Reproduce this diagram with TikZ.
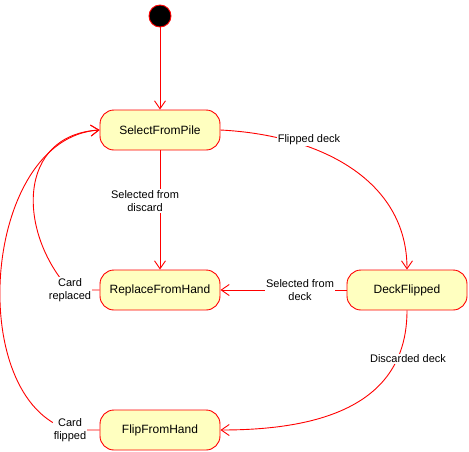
\documentclass[tikz,border=0pt]{standalone}
\usepackage{fontspec}
\setmainfont{Liberation Sans}
\usetikzlibrary{arrows.meta}
\definecolor{edgered}{HTML}{FF0000}
\definecolor{statefill}{HTML}{FFFFC0}
\begin{document}
\begin{tikzpicture}[x=1pt,y=-1pt,
  state/.style={draw=edgered, fill=statefill, rounded corners=14pt, minimum width=120pt, minimum height=40pt, inner sep=0pt, line width=0.9pt, font=\fontsize{12}{14}\selectfont},
  initst/.style={circle, draw=edgered, fill=black, minimum size=22pt, inner sep=0pt, line width=0.9pt},
  edge/.style={draw=edgered, line width=0.9pt, -{Straight Barb[length=8pt,width=11pt]}},
  lbl/.style={fill=white, align=center, inner sep=1pt, font=\fontsize{11}{13}\selectfont}]
\useasboundingbox (0,0) rectangle (469,451);
\node[initst] (init) at (160,16) {};
\node[state] (sfp) at (160,130) {SelectFromPile};
\node[state] (rfh) at (160,290) {ReplaceFromHand};
\node[state] (df) at (407,290) {DeckFlipped};
\node[state] (ffh) at (160,430) {FlipFromHand};
% edges
\draw[edge] (init) -- (sfp);
\draw[edge] (sfp.east) .. controls (320,135) and (407,180) .. (df.north);
\draw[edge] (sfp) -- (rfh);
\draw[edge] (rfh.west) -- (70,290) .. controls (17,232) and (17,135) .. (sfp.west);
\draw[edge] (ffh.west) -- (70,430) .. controls (-36,400) and (-18,138) .. (sfp.west);
\draw[edge] (df) -- (rfh);
\draw[edge] (df.south) .. controls (407,400) and (330,430) .. (ffh.east);
% labels
\node[lbl] (l1) at (309,140) {Flipped deck};
\node[lbl] (l2) at (145,201) {Selected from\\discard};
\node[lbl] (l3) at (70,290) {Card\\replaced};
\node[lbl] (l4) at (70,430) {Card\\flipped};
\node[lbl] (l5) at (300,290) {Selected from\\deck};
\node[lbl] (l6) at (408,359) {Discarded deck};
\end{tikzpicture}
\end{document}
